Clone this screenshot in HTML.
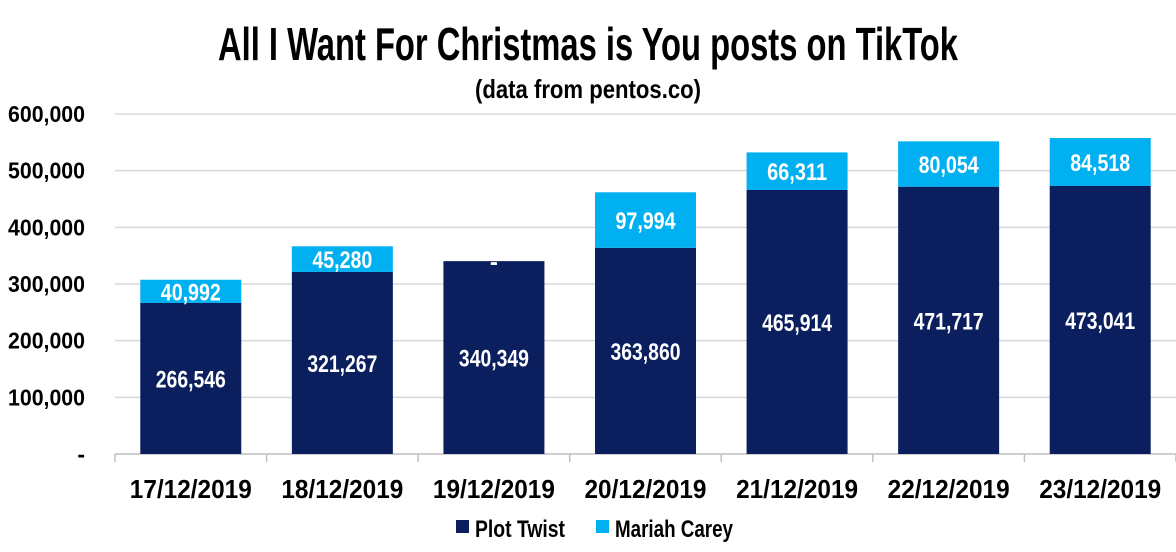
<!DOCTYPE html>
<html><head><meta charset="utf-8"><style>
html,body{margin:0;padding:0;background:#fff;}
svg text{font-family:"Liberation Sans Narrow","Liberation Sans",sans-serif;font-weight:bold;}
</style></head><body>
<svg id="chart" width="1176" height="547" viewBox="0 0 1176 547" xmlns="http://www.w3.org/2000/svg">
<text x="588" y="60" text-anchor="middle" font-size="46" fill="#000" textLength="740" lengthAdjust="spacingAndGlyphs">All I Want For Christmas is You posts on TikTok</text>
<text x="588" y="98" text-anchor="middle" font-size="26" fill="#000" textLength="226" lengthAdjust="spacingAndGlyphs">(data from pentos.co)</text>
<g id="grid"></g><g id="bars"></g><g id="labels"></g>
<g>
<rect x="456" y="520" width="13" height="13" fill="#0b1f5e"/>
<text x="475" y="537" font-size="24" fill="#000" textLength="90" lengthAdjust="spacingAndGlyphs">Plot Twist</text>
<rect x="596" y="520" width="13" height="13" fill="#00b0f0"/>
<text x="615" y="537" font-size="24" fill="#000" textLength="118" lengthAdjust="spacingAndGlyphs">Mariah Carey</text>
</g>
</svg>
<script>
const categories=["17/12/2019","18/12/2019","19/12/2019","20/12/2019","21/12/2019","22/12/2019","23/12/2019"];
const plotTwist=[266546,321267,340349,363860,465914,471717,473041];
const mariahCarey=[40992,45280,0,97994,66311,80054,84518];
const yTicks=[0,100000,200000,300000,400000,500000,600000];
const NS="http://www.w3.org/2000/svg";
const x0=115,x1=1176,yBase=454,yTop=114,yMax=600000;
const step=(x1-x0)/categories.length,bw=101;
function y(v){return yBase-(v/yMax)*(yBase-yTop);}
function xc(i){return x0+step*(i+0.5);}
function fmt(v){return v===0?"-":v.toLocaleString("en-US");}
function mk(tag,attrs,parent){const e=document.createElementNS(NS,tag);for(const k in attrs)e.setAttribute(k,attrs[k]);parent.appendChild(e);return e;}
function squeeze(e,s,per){if(s.length>1){e.setAttribute("textLength",s.length*per);e.setAttribute("lengthAdjust","spacingAndGlyphs");}}
const grid=document.getElementById("grid"),bars=document.getElementById("bars"),labels=document.getElementById("labels");
yTicks.forEach(t=>{
  if(t>0){const l=mk("line",{x1:x0,x2:x1,y1:y(t),y2:y(t),stroke:"#d9d9d9","stroke-width":1.5},grid);
  
  }
  const tx=mk("text",{x:85,y:y(t)+8,"text-anchor":"end","font-size":23,fill:"#000"},grid);
  tx.textContent=fmt(t);
  squeeze(tx,fmt(t),11);
  
  
});
const ax=mk("line",{x1:x0,x2:x1,y1:yBase,y2:yBase,stroke:"#bfbfbf","stroke-width":1.5},grid);


for(let i=0;i<=categories.length;i++){
  const tk=mk("line",{x1:x0+step*i,x2:x0+step*i,y1:yBase,y2:yBase+8,stroke:"#bfbfbf","stroke-width":1.5},grid);
  
  
}
categories.forEach((c,i)=>{
  const cx=xc(i);
  const p=plotTwist[i],m=mariahCarey[i];
  const r1=mk("rect",{x:cx-bw/2,y:y(p),width:bw,height:yBase-y(p),fill:"#0b1f5e"},bars);
  
  
  const r2=mk("rect",{x:cx-bw/2,y:y(p+m),width:bw,height:y(p)-y(p+m),fill:"#00b0f0"},bars);
  
  
  const t1=mk("text",{x:cx,y:(y(p)+yBase)/2+9,"text-anchor":"middle","font-size":24,fill:"#fff"},labels);
  t1.textContent=fmt(p);
  squeeze(t1,fmt(p),10);
  
  
  const t2=mk("text",{x:cx,y:(y(p+m)+y(p))/2+9,"text-anchor":"middle","font-size":24,fill:"#fff"},labels);
  t2.textContent=fmt(m);
  squeeze(t2,fmt(m),10);
  
  
  const xl=mk("text",{x:cx,y:498,"text-anchor":"middle","font-size":26,fill:"#000"},labels);
  xl.textContent=c;
  squeeze(xl,c,12.2);
  
  
});
</script>
</body></html>
